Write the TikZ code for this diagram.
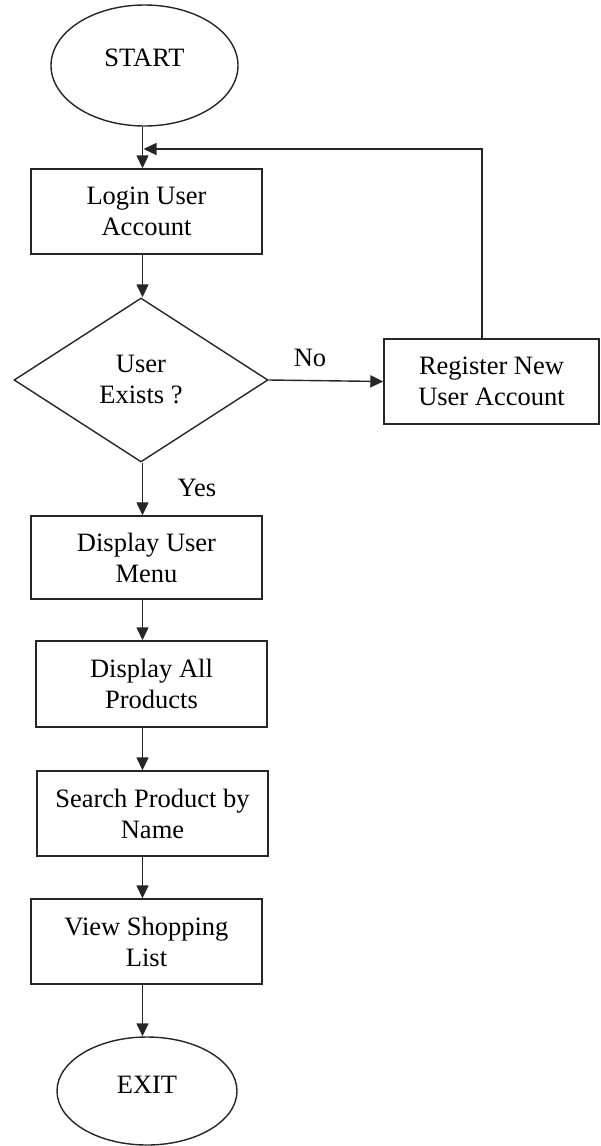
\documentclass[tikz,border=0pt]{standalone}
\usepackage{fontspec}
\setmainfont{Liberation Serif}
\usetikzlibrary{shapes.geometric,arrows.meta}

\tikzset{
  base/.style={draw=black!85, line width=1.4pt, font=\fontsize{26.5}{31}\selectfont, align=center, inner sep=0pt},
  procbox/.style={base, rectangle, minimum width=231pt, minimum height=85pt},
  terminal/.style={base, ellipse, text depth=16pt},
  decision/.style={base, diamond, minimum width=254pt, minimum height=164pt, aspect=1.55},
  arr/.style={draw=black!85, line width=1.4pt, -{Triangle[length=13pt,width=12pt]}},
  lbl/.style={font=\fontsize{26.5}{31}\selectfont, inner sep=0pt}
}

\begin{document}
\begin{tikzpicture}[x=1pt,y=-1pt]
  \useasboundingbox (0,0) rectangle (600,1146);

  % main column of steps
  \node[terminal, minimum width=187pt, minimum height=121pt] (start) at (144.5,65.5) {START};
  \node[procbox] (login) at (146.5,211.5) {Login User\\Account};
  \node[decision] (dec) at (141,380) {User\\Exists ?};
  \node[procbox, minimum width=215pt] (reg) at (491.5,381.5) {Register New\\User Account};
  \node[procbox, minimum height=83pt] (dum) at (146.5,557.5) {Display User\\Menu};
  \node[procbox, minimum height=86pt] (dap) at (151.5,684) {Display All\\Products};
  \node[procbox] (spn) at (152.5,813.5) {Search Product by\\Name};
  \node[procbox] (vsl) at (146.5,941.5) {View Shopping\\List};
  \node[terminal, minimum width=180pt, minimum height=108pt, text depth=12pt] (exit) at (147,1091) {EXIT};

  % vertical spine of the flow
  \coordinate (spine) at (142.5,0);

  \draw[arr] (spine |- start.south) -- (spine |- login.north);
  \draw[arr] (spine |- login.south) -- (spine |- dec.north);
  \draw[arr] (spine |- dec.south) -- (spine |- dum.north);
  \draw[arr] (spine |- dum.south) -- (spine |- dap.north);
  \draw[arr] (spine |- dap.south) -- (spine |- spn.north);
  \draw[arr] (spine |- spn.south) -- (spine |- vsl.north);
  \draw[arr] (spine |- vsl.south) -- (spine |- exit.north);

  % "No" branch and the loop back to login
  \draw[arr] (dec.east) -- (reg.west);
  \coordinate (loopcorner) at (482,149);
  \coordinate (loopend) at (143.5,149);
  \draw[arr] (reg.north -| loopcorner) -- (loopcorner) -- (loopend);

  % branch labels
  \node[lbl] (no) at (310,358) {No};
  \node[lbl] (yes) at (197,488) {Yes};
\end{tikzpicture}
\end{document}
